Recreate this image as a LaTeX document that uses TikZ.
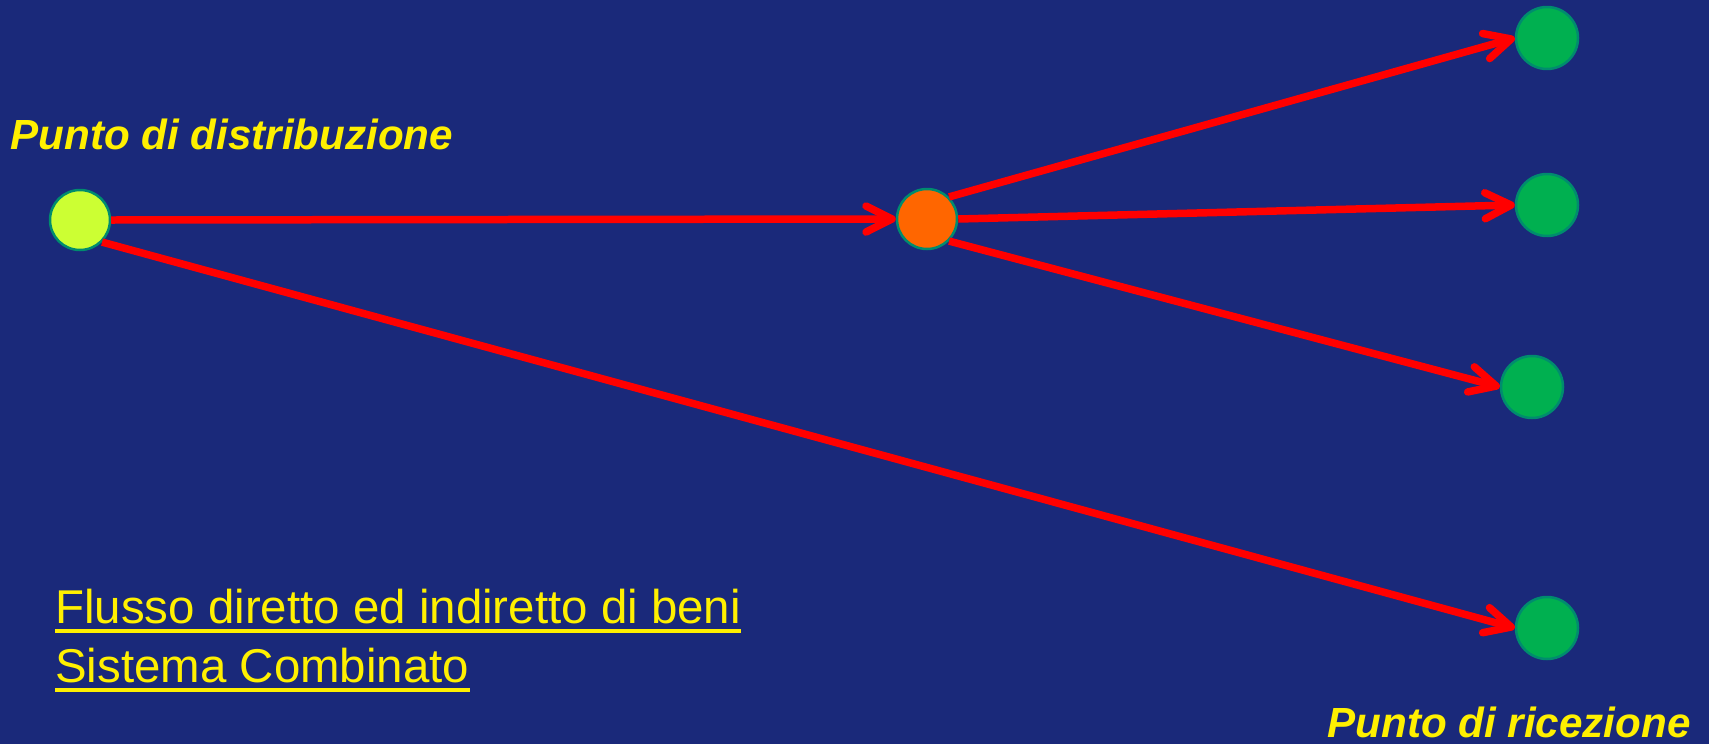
\documentclass[tikz,border=0pt]{standalone}
\usepackage{fontspec}
\setmainfont{Liberation Sans}
\usepackage{tikz}
\usetikzlibrary{positioning,arrows.meta}
\usepackage{xcolor}
\definecolor{slidebg}{RGB}{26,41,122}
\definecolor{labelyellow}{RGB}{255,240,0}
\definecolor{rimgreen}{RGB}{0,140,110}
\definecolor{limefill}{RGB}{204,255,51}
\definecolor{hubfill}{RGB}{255,102,0}
\definecolor{destfill}{RGB}{0,176,80}
\definecolor{flowred}{RGB}{255,0,0}

\begin{document}
\begin{tikzpicture}[x=0.02cm, y=-0.02cm,
    srcnode/.style={circle, draw=rimgreen, fill=limefill, line width=0.05cm,
                    minimum size=1.2cm, inner sep=0pt},
    hubnode/.style={circle, draw=rimgreen, fill=hubfill, line width=0.05cm,
                    minimum size=1.2cm, inner sep=0pt},
    destnode/.style={circle, draw=rimgreen, fill=destfill, line width=0.05cm,
                     minimum size=1.24cm, inner sep=0pt},
    headlabel/.style={anchor=base west, inner sep=0pt, text=labelyellow,
                      font=\fontsize{24pt}{28pt}\selectfont\bfseries\itshape},
    notelabel/.style={anchor=base west, inner sep=0pt, text=labelyellow,
                      font=\fontsize{27pt}{32pt}\selectfont},
    uline/.style={labelyellow, line width=0.08cm},
    arrow/.style={-{Straight Barb[length=0.52cm, width=0.52cm, round]},
                  line width=0.15cm, flowred}
]
    \fill[slidebg] (0,0) rectangle (1709,744);
    \useasboundingbox (0,0) rectangle (1709,744);

    \node[srcnode] (src) at (80,220) {};
    \node[hubnode] (hub) at (927,219) {};
    \node[destnode] (destA) at (1547,38) {};
    \node[destnode] (destB) at (1547,205) {};
    \node[destnode] (destC) at (1532,387) {};
    \node[destnode] (destD) at (1547,628) {};

    \node[headlabel] (distlabel) at (10,149) {Punto di distribuzione};
    \node[headlabel] (recvlabel) at (1327,737) {Punto di ricezione};

    \node[notelabel] (noteA) at (55,623) {Flusso diretto ed indiretto di beni};
    \node[notelabel] (noteB) at (55,682) {Sistema Combinato};
    \draw[uline] ([yshift=-0.15cm]noteA.base west) -- ([yshift=-0.15cm]noteA.base east);
    \draw[uline] ([yshift=-0.15cm]noteB.base west) -- ([yshift=-0.15cm]noteB.base east);

    \draw[arrow] (src.east) -- (hub.west);
    \draw[arrow] (src.south east) -- (destD.west);
    \draw[arrow] (hub.north east) -- (destA.west);
    \draw[arrow] (hub.east) -- (destB.west);
    \draw[arrow] (hub.south east) -- (destC.west);
\end{tikzpicture}
\end{document}
